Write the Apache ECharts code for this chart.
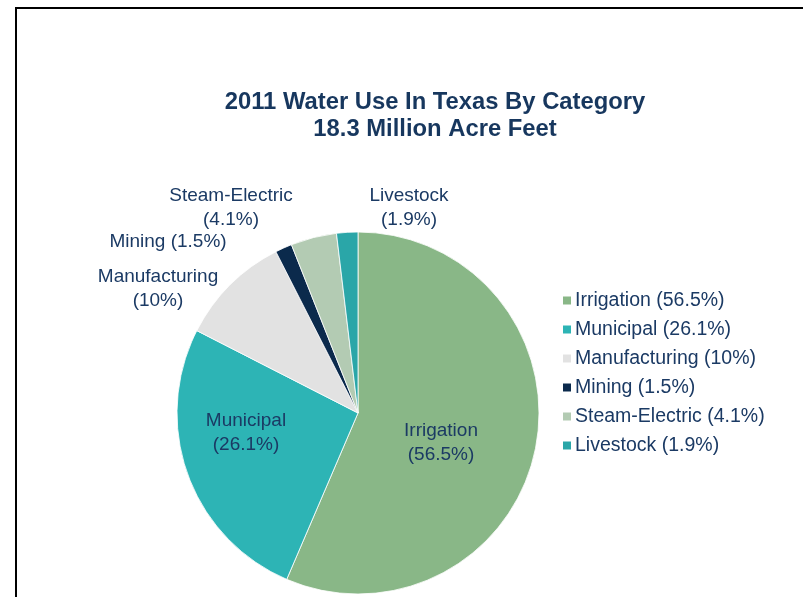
<!DOCTYPE html>
<html>
<head>
<meta charset="utf-8">
<script src="https://cdn.jsdelivr.net/npm/echarts@6/dist/echarts.min.js"></script>
<style>
  html, body { margin: 0; padding: 0; background: #fff; }
  #chart { width: 803px; height: 597px; position: relative; }
  #frame { position: absolute; left: 15px; top: 7px; right: -4px; bottom: -4px;
           border: 2px solid #000; border-right: 0; border-bottom: 0; pointer-events: none; }
</style>
</head>
<body>
<div id="chart"></div>
<script>
// Texas water use by category, 2011 (percent of 18.3 million acre-feet)
const categories = ['Irrigation', 'Municipal', 'Manufacturing', 'Mining', 'Steam-Electric', 'Livestock'];
const shares = [56.5, 26.1, 10, 1.5, 4.1, 1.9];
const sliceColors = ['#89b787', '#2db4b5', '#e2e2e2', '#0b2a4c', '#b3cbb3', '#2aa6a8'];

const textColor = '#1b3a64';
const fontFamily = 'Liberation Sans, Arial, sans-serif';

// Where each slice label sits (label centre) and whether it wraps onto two lines
const labelSpots = {
  'Irrigation':     { x: 441, y: 443, wrap: true },
  'Municipal':      { x: 246, y: 433, wrap: true },
  'Manufacturing':  { x: 158, y: 289, wrap: true },
  'Mining':         { x: 168, y: 242, wrap: false },
  'Steam-Electric': { x: 231, y: 208, wrap: true },
  'Livestock':      { x: 409, y: 208, wrap: true }
};

const chart = echarts.init(document.getElementById('chart'), null, { renderer: 'canvas' });

const data = categories.map((name, i) => ({
  name,
  value: shares[i],
  itemStyle: { color: sliceColors[i] }
}));

chart.setOption({
  backgroundColor: '#fff',
  animation: false,
  title: {
    text: '2011 Water Use In Texas By Category\n18.3 Million Acre Feet',
    left: 430,
    top: 84,
    textAlign: 'center',
    textStyle: {
      fontFamily,
      fontWeight: 'bold',
      fontSize: 23.8,
      lineHeight: 27,
      color: '#17375e'
    }
  },
  legend: {
    orient: 'vertical',
    left: 556,
    top: 285,
    itemWidth: 10,
    itemHeight: 10,
    itemGap: 8,
    icon: 'rect',
    data: categories,
    formatter: name => name + ' (' + shares[categories.indexOf(name)] + '%)',
    textStyle: {
      fontFamily,
      fontSize: 19.5,
      lineHeight: 21,
      color: textColor,
      padding: [0, 0, 0, -2]
    }
  },
  series: [{
    type: 'pie',
    center: [358, 413],
    radius: 181,
    startAngle: 90,
    clockwise: true,
    avoidLabelOverlap: false,
    itemStyle: { borderColor: '#ffffff', borderWidth: 0.8 },
    label: {
      show: true,
      position: 'inside',
      fontFamily,
      fontSize: 19,
      lineHeight: 23.5,
      color: textColor,
      align: 'center',
      formatter: p => labelSpots[p.name].wrap
        ? p.name + '\n(' + p.value + '%)'
        : p.name + ' (' + p.value + '%)'
    },
    labelLine: { show: false },
    labelLayout: params => {
      const spot = labelSpots[categories[params.dataIndex]];
      return { x: spot.x, y: spot.y, align: 'center', verticalAlign: 'middle' };
    },
    emphasis: { disabled: true },
    data
  }]
});
</script>
<div id="frame"></div>
</body>
</html>
